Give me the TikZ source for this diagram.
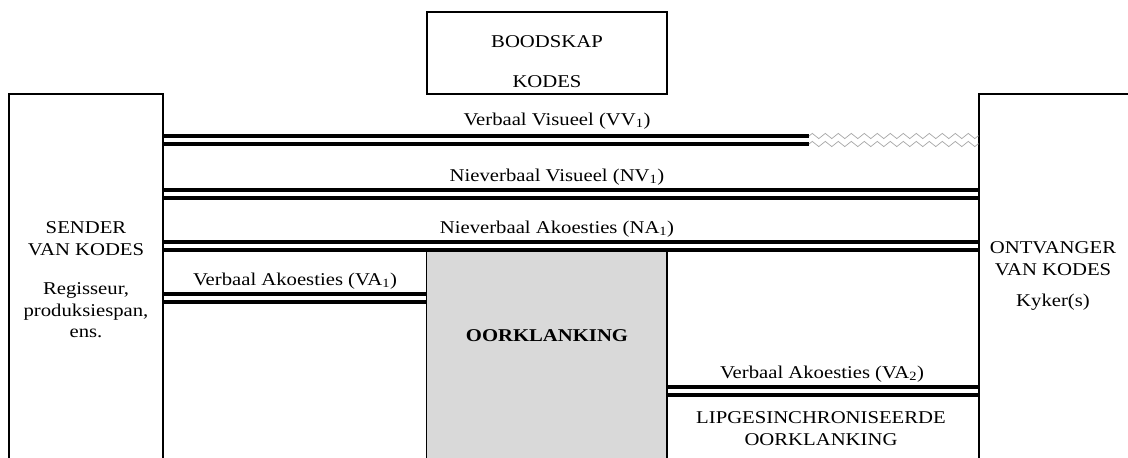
\documentclass[tikz,border=0pt]{standalone}
\usepackage{fontspec}
\setmainfont{Liberation Serif}[FakeStretch=1.15]
\usetikzlibrary{decorations.pathmorphing}
\definecolor{boxgray}{RGB}{217,217,217}
\definecolor{zig}{RGB}{165,165,165}
\begin{document}
\begin{tikzpicture}[x=1pt,y=-1pt,
  txt/.style={inner sep=0pt,anchor=center,font=\fontsize{18}{22}\selectfont},
  frame/.style={line width=1.8pt},
  chan/.style={line width=3.2pt},
  wave/.style={draw=zig,line width=0.7pt,decorate,decoration={zigzag,segment length=13pt,amplitude=2.6pt}},
  area/.style={draw=none,inner sep=0pt,minimum width=#1}]
\useasboundingbox (0,0) rectangle (1128,458);
% boxes (as nodes)
\node[area=154pt,minimum height=364pt] (sender) at (86,276) {};
\node[area=150pt,minimum height=364pt] (receiver) at (1054,276) {};
\node[area=240pt,minimum height=82pt] (msg) at (547,53) {};
\node[area=240pt,minimum height=207pt,fill=boxgray] (dub) at (547,354.5) {};
\node[area=312pt,minimum height=207pt] (lip) at (823,354.5) {};
% frames
\draw[frame] (sender.south west) -- (sender.north west) -- (sender.north east) -- (sender.south east);
\draw[frame] (receiver.south west) -- (receiver.north west) -- (receiver.north east);
\draw[frame] (msg.south west) rectangle (msg.north east);
\draw[line width=1pt] (dub.north west) -- (dub.south west);
\draw[frame] (dub.north east) -- (dub.south east);
% channels
\coordinate (vvend) at (809,136);
\draw[chan] (sender.east |- 0,136) -- (vvend);
\draw[chan] (sender.east |- 0,144) -- (vvend |- 0,144);
\draw[wave] (vvend) -- (receiver.west |- 0,136);
\draw[wave] (vvend |- 0,144) -- (receiver.west |- 0,144);
\draw[chan] (sender.east |- 0,190) -- (receiver.west |- 0,190);
\draw[chan] (sender.east |- 0,198) -- (receiver.west |- 0,198);
\draw[chan] (sender.east |- 0,242) -- (receiver.west |- 0,242);
\draw[chan] (sender.east |- 0,250) -- (receiver.west |- 0,250);
\draw[chan] (sender.east |- 0,294) -- (dub.west |- 0,294);
\draw[chan] (sender.east |- 0,302) -- (dub.west |- 0,302);
\draw[chan] (dub.east |- 0,387) -- (receiver.west |- 0,387);
\draw[chan] (dub.east |- 0,395) -- (receiver.west |- 0,395);
% texts
\node[txt] (t1) at (547,42) {BOODSKAP};
\node[txt] (t2) at (547,82) {KODES};
\node[txt] (t3) at (557,121) {Verbaal Visueel (VV\textsubscript{1})};
\node[txt] (t4) at (557,177) {Nieverbaal Visueel (NV\textsubscript{1})};
\node[txt] (t5) at (557,229) {Nieverbaal Akoesties (NA\textsubscript{1})};
\node[txt] (t6) at (295,281) {Verbaal Akoesties (VA\textsubscript{1})};
\node[txt] (t7) at (822,374) {Verbaal Akoesties (VA\textsubscript{2})};
\node[txt] (t8) at (821,418) {LIPGESINCHRONISEERDE};
\node[txt] (t9) at (821,440) {OORKLANKING};
\node[txt,font=\fontsize{18}{22}\selectfont\bfseries] (t10) at (547,336) {OORKLANKING};
\node[txt] (s1) at (86,228) {SENDER};
\node[txt] (s2) at (86,250) {VAN KODES};
\node[txt] (s3) at (86,290) {Regisseur,};
\node[txt] (s4) at (86,312) {produksiespan,};
\node[txt] (s5) at (86,333) {ens.};
\node[txt] (r1) at (1053,248) {ONTVANGER};
\node[txt] (r2) at (1053,270) {VAN KODES};
\node[txt] (r3) at (1053,302) {Kyker(s)};
\end{tikzpicture}
\end{document}
